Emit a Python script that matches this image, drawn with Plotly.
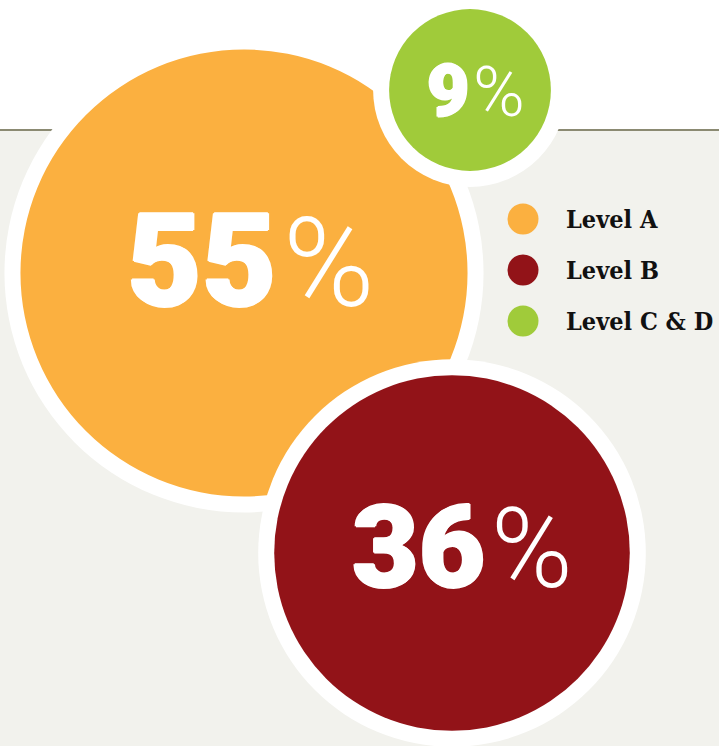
import math
import plotly.graph_objects as go

# Share of items by level
levels = ["Level A", "Level B", "Level C & D"]
shares = [55, 36, 9]
colors = ["#fbb040", "#921318", "#a0cb3a"]

# Bubble placement (pixel space) and the order bubbles are painted in
centers_x = [244, 452, 470]
centers_y = [273, 553, 90]
paint_order = [0, 2, 1]

# Value label placement: right edge of number, left edge of "%", vertical middle
num_right = [279, 487, 471]
pct_left = [281, 489, 471]
label_mid = [261, 547, 91]
digit_sizes = [129, 115, 73]

W, H = 719, 746
SCALE = 32.3      # outer radius per sqrt(percent)
RING = 16         # white halo width

fig = go.Figure()

shapes = [
    # light panel below the rule
    dict(type="rect", xref="x", yref="y", x0=0, x1=W, y0=130, y1=H,
         fillcolor="#f2f2ed", line=dict(width=0), layer="below"),
    dict(type="line", xref="x", yref="y", x0=0, x1=W, y0=130, y1=130,
         line=dict(color="#8b8a72", width=2), layer="below"),
]

for i in paint_order:
    outer = SCALE * math.sqrt(shares[i])
    inner = outer - RING
    cx, cy = centers_x[i], centers_y[i]
    shapes.append(dict(type="circle", xref="x", yref="y",
                       x0=cx - outer, x1=cx + outer, y0=cy - outer, y1=cy + outer,
                       fillcolor="white", line=dict(width=0), layer="below"))
    shapes.append(dict(type="circle", xref="x", yref="y",
                       x0=cx - inner, x1=cx + inner, y0=cy - inner, y1=cy + inner,
                       fillcolor=colors[i], line=dict(width=0), layer="below"))

# heavier digits: thicken the bold face with a tight white halo
thicken = "1.2px 0 0 white, -1.2px 0 0 white, 0 1px 0 white, 0 -1px 0 white"

annotations = []
for i in range(len(shares)):
    fs = digit_sizes[i]
    annotations.append(dict(
        x=num_right[i], y=label_mid[i], xref="x", yref="y",
        text=str(shares[i]), showarrow=False, xanchor="right", yanchor="middle",
        font=dict(family="Roboto, Liberation Sans", size=fs, color="white",
                  weight=900, shadow=thicken),
    ))
    annotations.append(dict(
        x=pct_left[i], y=label_mid[i] + 0.02 * fs, xref="x", yref="y",
        text="%", showarrow=False, xanchor="left", yanchor="middle",
        font=dict(family="Roboto, Liberation Sans", size=fs * 0.96, color="white", weight=300),
    ))

# legend
legend_y = [219, 270, 321]
fig.add_trace(go.Scatter(
    x=[523] * len(levels), y=legend_y, mode="markers",
    marker=dict(size=31, color=colors, line=dict(width=0)),
    hoverinfo="skip", showlegend=False,
))
for i, name in enumerate(levels):
    annotations.append(dict(
        x=564, y=legend_y[i], xref="x", yref="y", text=f"<b>{name}</b>",
        showarrow=False, xanchor="left", yanchor="middle",
        font=dict(family="DejaVu Serif Condensed, DejaVu Serif", size=25, color="#111111"),
    ))

fig.update_layout(
    width=W, height=H, margin=dict(l=0, r=0, t=0, b=0),
    paper_bgcolor="white", plot_bgcolor="white",
    xaxis=dict(range=[0, W], visible=False, fixedrange=True),
    yaxis=dict(range=[H, 0], visible=False, fixedrange=True),
    shapes=shapes, annotations=annotations,
)

fig.write_html("out.html", config={"displayModeBar": False})
